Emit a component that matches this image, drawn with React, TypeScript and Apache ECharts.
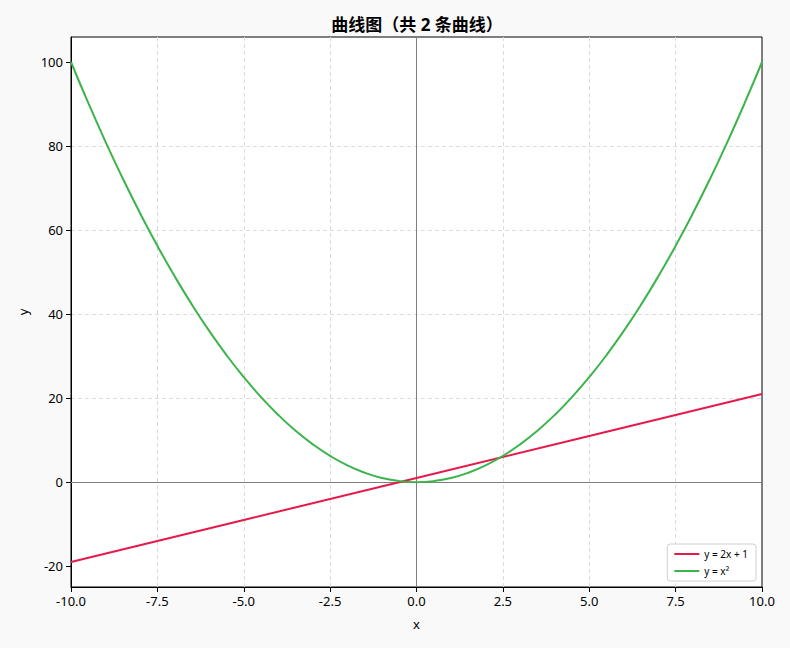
import { useEffect, useRef } from 'react'
import * as echarts from 'echarts'

// x samples shared by the parabola
const curveX = [
  -10, -9.5, -9, -8.5, -8, -7.5, -7, -6.5, -6, -5.5, -5, -4.5, -4, -3.5, -3, -2.5, -2, -1.5, -1, -0.5,
  0, 0.5, 1, 1.5, 2, 2.5, 3, 3.5, 4, 4.5, 5, 5.5, 6, 6.5, 7, 7.5, 8, 8.5, 9, 9.5, 10,
]
const parabolaY = [
  100, 90.25, 81, 72.25, 64, 56.25, 49, 42.25, 36, 30.25, 25, 20.25, 16, 12.25, 9, 6.25, 4, 2.25, 1, 0.25,
  0, 0.25, 1, 2.25, 4, 6.25, 9, 12.25, 16, 20.25, 25, 30.25, 36, 42.25, 49, 56.25, 64, 72.25, 81, 90.25, 100,
]
const lineX = [-10, -5, 0, 5, 10]
const lineY = [-19, -9, 1, 11, 21]

const seriesNames = ['y = 2x + 1', 'y = x²']
const seriesColors = ['#e6194b', '#3cb44b']
const yTicks = [-20, 0, 20, 40, 60, 80, 100]

const FONT = '"Noto Sans", "Noto Sans CJK SC", sans-serif'

export default function App() {
  const chartRef = useRef<HTMLDivElement>(null)

  useEffect(() => {
    if (!chartRef.current) return
    document.body.style.margin = '0'
    const chart = echarts.init(chartRef.current, undefined, { renderer: 'svg' })

    const axisText = { color: '#000', fontSize: 13, fontFamily: FONT }
    const gridLine = { show: true, showMinLine: false, showMaxLine: false, lineStyle: { color: '#dcdcdc', type: [4, 3], width: 1 } }

    chart.setOption({
      animation: false,
      backgroundColor: '#f9f9f9',
      textStyle: { fontFamily: FONT },
      title: {
        text: '曲线图（共 2 条曲线）',
        left: 412,
        textAlign: 'center',
        top: 11,
        textStyle: { fontSize: 17, fontWeight: 'bold', color: '#000', fontFamily: FONT },
      },
      grid: {
        left: 71,
        right: 28,
        top: 37,
        bottom: 61,
        show: true,
        backgroundColor: '#fff',
        borderColor: '#000',
        borderWidth: 1,
      },
      legend: {
        right: 34,
        bottom: 67,
        orient: 'vertical',
        data: seriesNames.map((name) => ({ name, icon: 'rect' })),
        itemWidth: 25,
        itemHeight: 2,
        itemGap: 7,
        padding: [5, 8, 5, 7],
        backgroundColor: '#fff',
        borderColor: '#d0d0d0',
        borderWidth: 1,
        borderRadius: 3,
        textStyle: { fontSize: 10, color: '#000', fontFamily: FONT },
      },
      xAxis: {
        type: 'value',
        min: -10,
        max: 10,
        interval: 2.5,
        name: 'x',
        nameLocation: 'middle',
        nameGap: 30,
        nameTextStyle: { fontSize: 13, color: '#000', fontFamily: FONT },
        axisLine: { onZero: false, lineStyle: { color: '#000', width: 1 } },
        axisTick: { show: true, length: 5, lineStyle: { color: '#000' } },
        axisLabel: { ...axisText, formatter: (v: number) => v.toFixed(1), margin: 7 },
        splitLine: gridLine,
      },
      yAxis: {
        type: 'value',
        min: -24.95,
        max: 105.95,
        name: 'y',
        nameLocation: 'middle',
        nameGap: 42,
        nameTextStyle: { fontSize: 13, color: '#000', fontFamily: FONT },
        axisLine: { onZero: false, lineStyle: { color: '#000', width: 1 } },
        axisTick: { show: true, length: 5, lineStyle: { color: '#000' }, customValues: yTicks },
        axisLabel: { ...axisText, margin: 8, customValues: yTicks },
        splitLine: gridLine,
      },
      series: [
        {
          name: seriesNames[0],
          type: 'line',
          data: lineX.map((x, i) => [x, lineY[i]]),
          showSymbol: false,
          lineStyle: { color: seriesColors[0], width: 2 },
          itemStyle: { color: seriesColors[0] },
          z: 3,
          markLine: {
            silent: true,
            symbol: 'none',
            label: { show: false },
            lineStyle: { color: '#808080', width: 1, type: 'solid' },
            data: [{ xAxis: 0 }, { yAxis: 0 }],
            z: 1,
          },
        },
        {
          name: seriesNames[1],
          type: 'line',
          data: curveX.map((x, i) => [x, parabolaY[i]]),
          showSymbol: false,
          smooth: true,
          lineStyle: { color: seriesColors[1], width: 2 },
          itemStyle: { color: seriesColors[1] },
          z: 4,
        },
      ],
    })

    return () => {
      chart.dispose()
    }
  }, [])

  return <div ref={chartRef} style={{ width: 790, height: 648 }} />
}
